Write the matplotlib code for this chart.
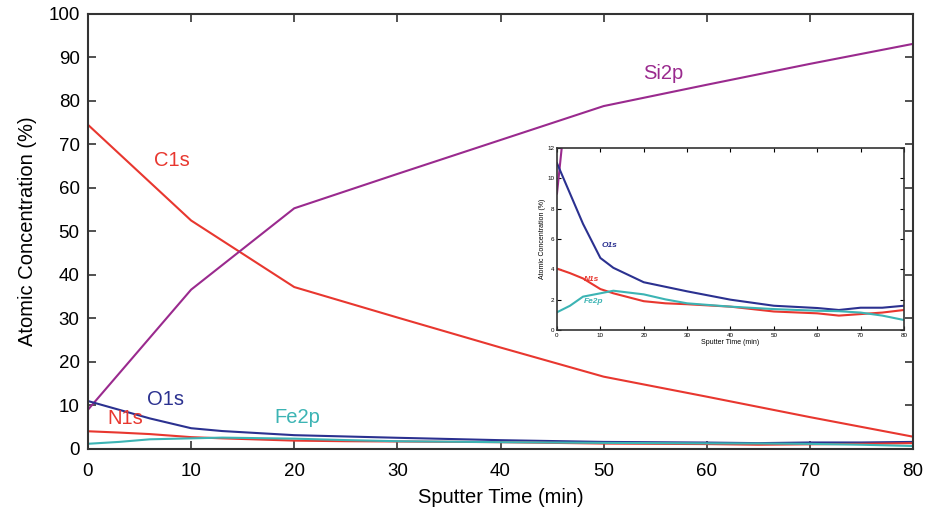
import matplotlib
matplotlib.use("Agg")
import matplotlib.pyplot as plt

plt.rcParams['font.family'] = ['Liberation Sans', 'DejaVu Sans']

# Major components, sampled every 10 min
major_time = [0, 10, 20, 30, 40, 50, 60, 70, 80]
c1s = [74.5, 52.5, 37.2, 30.2, 23.3, 16.6, 12.0, 7.3, 2.8]
si2p = [9.0, 36.6, 55.3, 63.2, 71.0, 78.8, 83.7, 88.5, 93.1]

# Minor components
minor_time = [0, 3, 6, 10, 13, 20, 25, 30, 40, 50, 60, 65, 70, 75, 80]
o1s = [11.0, 9.0, 7.0, 4.75, 4.1, 3.15, 2.85, 2.55, 2.0, 1.6, 1.45, 1.32, 1.47, 1.47, 1.6]
n1s = [4.05, 3.75, 3.4, 2.7, 2.42, 1.9, 1.76, 1.7, 1.54, 1.22, 1.1, 0.95, 1.05, 1.15, 1.32]
fe2p = [1.17, 1.6, 2.2, 2.42, 2.59, 2.35, 2.02, 1.76, 1.54, 1.38, 1.27, 1.24, 1.15, 0.95, 0.66]

RED = '#e8372f'
PURPLE = '#9a2a8e'
NAVY = '#2b3190'
CYAN = '#3cb4b4'
SPINE = '#333333'

fig = plt.figure(figsize=(9.26, 5.13), dpi=100)
ax = fig.add_axes([0.095, 0.125, 0.891, 0.848])

lw = 1.5
ax.plot(major_time, c1s, color=RED, lw=lw)
ax.plot(major_time, si2p, color=PURPLE, lw=lw)
ax.plot(minor_time, o1s, color=NAVY, lw=lw)
ax.plot(minor_time, n1s, color=RED, lw=lw)
ax.plot(minor_time, fe2p, color=CYAN, lw=lw)

ax.set_xlim(0, 80)
ax.set_ylim(0, 100)
ax.set_xticks(range(0, 81, 10))
ax.set_yticks(range(0, 101, 10))
ax.tick_params(direction='in', length=6, width=1.2, labelsize=13.5,
               top=True, right=True, colors=SPINE, labelcolor='black', pad=6)
ax.tick_params(axis='x', pad=10)
for s in ax.spines.values():
    s.set_color(SPINE)
    s.set_linewidth(1.5)
ax.set_xlabel('Sputter Time (min)', fontsize=14.5, labelpad=6)
ax.set_ylabel('Atomic Concentration (%)', fontsize=14.5, labelpad=8)

fs = 14.5
ax.text(55.8, 86.3, 'Si2p', color=PURPLE, fontsize=fs, ha='center', va='center')
ax.text(8.1, 66.2, 'C1s', color=RED, fontsize=fs, ha='center', va='center')
ax.text(7.5, 11.3, 'O1s', color=NAVY, fontsize=fs, ha='center', va='center')
ax.text(3.6, 7.0, 'N1s', color=RED, fontsize=fs, ha='center', va='center')
ax.text(20.3, 7.3, 'Fe2p', color=CYAN, fontsize=fs, ha='center', va='center')

# Inset: zoom on the minor components
ins = fig.add_axes([0.6015, 0.3567, 0.3747, 0.3548])
ins.plot(major_time, si2p, color=PURPLE, lw=1.5)
ins.plot(minor_time, o1s, color=NAVY, lw=1.5)
ins.plot(minor_time, n1s, color=RED, lw=1.5)
ins.plot(minor_time, fe2p, color=CYAN, lw=1.5)
ins.set_xlim(0, 80)
ins.set_ylim(0, 12)
ins.set_xticks(range(0, 81, 10))
ins.set_yticks(range(0, 13, 2))
ins.tick_params(direction='in', length=3, width=0.8, labelsize=4.5,
                top=True, right=True, pad=2)
for s in ins.spines.values():
    s.set_color(SPINE)
    s.set_linewidth(1.2)
ins.set_xlabel('Sputter Time (min)', fontsize=5, labelpad=1)
ins.set_ylabel('Atomic Concentration (%)', fontsize=5, labelpad=1)
ins.text(12.2, 5.6, 'O1s', color=NAVY, fontsize=6, fontweight='bold',
         style='italic', ha='center', va='center')
ins.text(8.0, 3.3, 'N1s', color=RED, fontsize=6, fontweight='bold',
         style='italic', ha='center', va='center')
ins.text(8.4, 1.87, 'Fe2p', color=CYAN, fontsize=6, fontweight='bold',
         style='italic', ha='center', va='center')

fig.savefig('out.png', dpi=100)
